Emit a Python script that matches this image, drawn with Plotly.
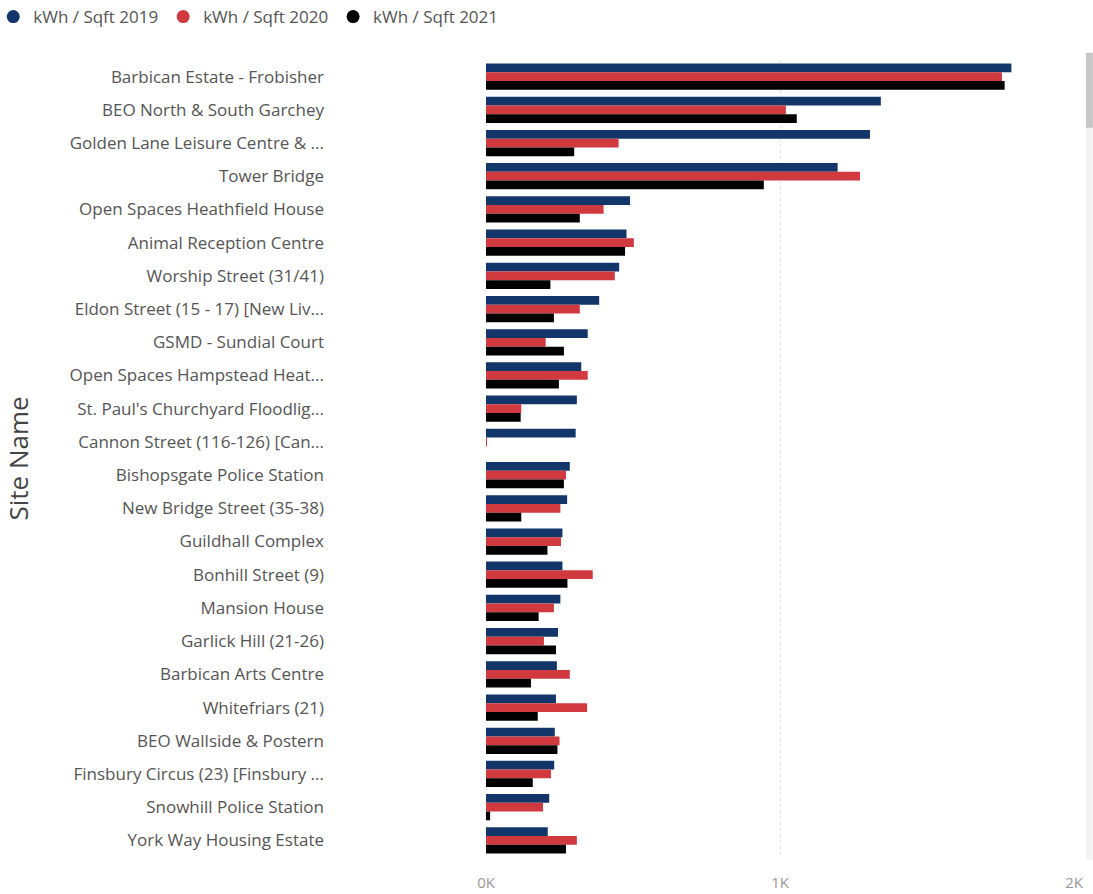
import plotly.graph_objects as go

sites = [
    "Barbican Estate - Frobisher",
    "BEO North & South Garchey",
    "Golden Lane Leisure Centre & ...",
    "Tower Bridge",
    "Open Spaces Heathfield House",
    "Animal Reception Centre",
    "Worship Street (31/41)",
    "Eldon Street (15 - 17) [New Liv...",
    "GSMD - Sundial Court",
    "Open Spaces Hampstead Heat...",
    "St. Paul's Churchyard Floodlig...",
    "Cannon Street (116-126) [Can...",
    "Bishopsgate Police Station",
    "New Bridge Street (35-38)",
    "Guildhall Complex",
    "Bonhill Street (9)",
    "Mansion House",
    "Garlick Hill (21-26)",
    "Barbican Arts Centre",
    "Whitefriars (21)",
    "BEO Wallside & Postern",
    "Finsbury Circus (23) [Finsbury ...",
    "Snowhill Police Station",
    "York Way Housing Estate",
]

kwh_2019 = [1787, 1343, 1306, 1196, 490, 478, 453, 385, 346, 324, 309, 305,
            285, 276, 260, 260, 253, 245, 241, 238, 234, 232, 215, 210]
kwh_2020 = [1755, 1020, 451, 1272, 400, 503, 438, 319, 203, 346, 120, 3,
            272, 253, 255, 363, 231, 197, 285, 344, 250, 221, 194, 309]
kwh_2021 = [1764, 1057, 300, 945, 319, 473, 219, 231, 265, 248, 118, 0,
            265, 120, 209, 277, 179, 238, 153, 176, 243, 159, 14, 272]

series = [
    ("kWh / Sqft 2019", kwh_2019, "#12366a"),
    ("kWh / Sqft 2020", kwh_2020, "#d0393e"),
    ("kWh / Sqft 2021", kwh_2021, "#000000"),
]

x_ticks = [0, 1000, 2000]
x_tick_labels = ["0K", "1K", "2K"]

fig = go.Figure()
for name, vals, color in series:
    fig.add_trace(go.Bar(
        y=sites, x=vals, name=name, orientation="h",
        marker=dict(color=color, line=dict(width=0)),
        showlegend=False,
    ))
for name, vals, color in series:
    fig.add_trace(go.Scatter(
        x=[None], y=[None], mode="markers", name=name,
        marker=dict(color=color, size=13, symbol="circle"),
        showlegend=True,
    ))

font_family = "Open Sans, Lato, sans-serif"
fig.update_layout(
    width=1093, height=894,
    margin=dict(l=486, r=19, t=60, b=37, autoexpand=False),
    paper_bgcolor="white", plot_bgcolor="white",
    barmode="group", bargap=0.21, bargroupgap=0,
    font=dict(family=font_family, color="#666666", size=16),
    legend=dict(orientation="h", xref="paper", yref="container",
                x=-0.838, y=0.981, xanchor="left", yanchor="middle",
                font=dict(size=17, color="#555555"), itemwidth=30,
                tracegroupgap=0, bgcolor="rgba(0,0,0,0)"),
    xaxis=dict(
        range=[0, 2000], tickvals=x_ticks, ticktext=x_tick_labels,
        showgrid=True, gridcolor="#e0e0e0", griddash="dot", gridwidth=1,
        zeroline=False, showline=False, ticks="", automargin=False,
        tickfont=dict(size=15, color="#999999"), ticklabelstandoff=15,
        fixedrange=True,
    ),
    yaxis=dict(
        type="category", autorange="reversed", showgrid=False, zeroline=False,
        ticks="", tickfont=dict(size=17, color="#555555"), automargin=False,
        ticklabelstandoff=161,
        title=dict(text="Site Name", font=dict(size=26, color="#444444"), standoff=40),
    ),
    shapes=[
        dict(type="rect", xref="paper", yref="paper",
             x0=1.0204, x1=1.032, y0=-0.004, y1=1.009,
             fillcolor="#f3f3f3", line=dict(width=0), layer="below"),
        dict(type="rect", xref="paper", yref="paper",
             x0=1.0204, x1=1.032, y0=0.915, y1=1.009,
             fillcolor="#c6c6c6", line=dict(width=0)),
    ],
)

fig.write_html(
    "out.html",
    config={"displayModeBar": False},
    post_script="document.body.style.margin='0';document.body.style.padding='0';",
)
